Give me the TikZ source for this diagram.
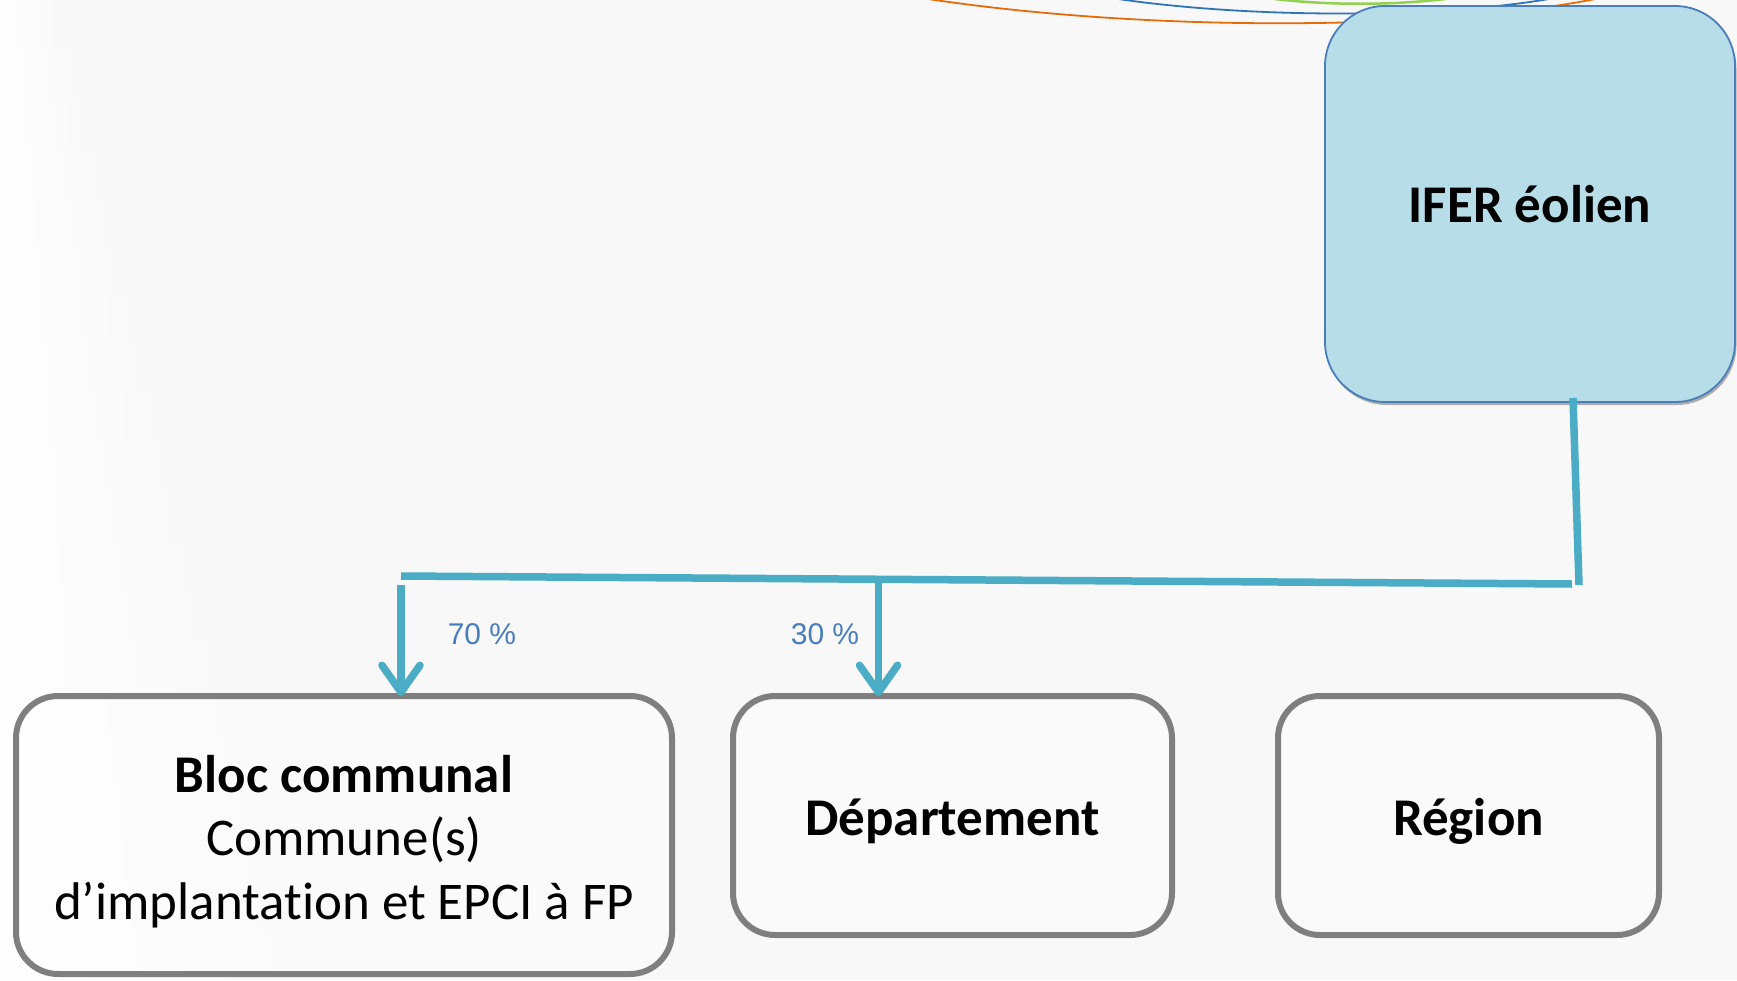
\documentclass[tikz,border=0pt]{standalone}
\usepackage{fontspec}
\setmainfont[Ligatures=NoCommon]{Carlito}
\newfontfamily\labfont{Liberation Sans}
\usetikzlibrary{arrows.meta,shadows,fadings,calc}
\definecolor{bgcol}{HTML}{F8F8F8}
\definecolor{iferfill}{HTML}{B7DDE8}
\definecolor{iferdraw}{HTML}{4A7EBB}
\definecolor{conncol}{HTML}{4BACC6}
\definecolor{boxgray}{HTML}{7F7F7F}
\definecolor{labcol}{HTML}{4A7EBB}
\definecolor{arcorange}{HTML}{E46C0A}
\definecolor{arcblue}{HTML}{2E75B6}
\definecolor{arcgreen}{HTML}{92D050}
\begin{document}
\begin{tikzpicture}[x=1pt,y=-1pt,
  bigfont/.style={font=\fontsize{53}{63.5}\selectfont},
  topbox/.style={rectangle, rounded corners=60pt, fill=iferfill, draw=iferdraw,
    line width=1.8pt, minimum width=410pt, minimum height=396pt, inner sep=0pt,
    outer sep=0pt, align=center, bigfont,
    drop shadow={opacity=0.3, shadow xshift=1.5pt, shadow yshift=-3pt, fill=black}},
  graybox/.style={rectangle, rounded corners=42pt, fill=white, fill opacity=0.35,
    text opacity=1, draw=boxgray, draw opacity=1, line width=6pt, inner sep=0pt,
    outer sep=0pt, align=center, bigfont},
  connline/.style={draw=conncol, line width=7.5pt},
  connarrow/.style={connline, -{Straight Barb[length=27pt, width=38pt, round]}},
  pct/.style={text=labcol, font=\labfont\fontsize{30}{36}\selectfont, inner sep=0pt},
  arc/.style={line width=1.8pt}
]
\useasboundingbox (0,0) rectangle (1737,980);
% background
\fill[bgcol] (0,0) rectangle (1737,980);
\foreach \i in {0,...,19}
  \fill[white, path fading=east] (0,{\i*49}) rectangle ({70+\i*13},{\i*49+49.3});
% decorative arcs at top
\begin{scope}
\clip (0,0) rectangle (1737,980);
\draw[arc, arcorange] (915,-3) .. controls (1150,34) and (1450,30) .. (1605,-3);
\draw[arc, arcblue] (1105,-3) .. controls (1250,20) and (1450,18) .. (1560,-3);
\draw[arc, arcgreen, line width=2.5pt] (1260,-3) .. controls (1320,6) and (1400,6) .. (1460,-3);
\end{scope}
% nodes
\node[topbox] (ifer) at (1530,204) {\bfseries IFER éolien};
\node[graybox, minimum width=656pt, minimum height=278pt] (bloc) at (344,835)
  {\raisebox{-8pt}[\height][\depth]{\begin{tabular}{@{}c@{}}{\bfseries Bloc communal}\\Commune(s)\\d’implantation et EPCI à FP\end{tabular}}};
\node[graybox, minimum width=439pt, minimum height=239pt] (dept) at (952.5,815.5)
  {\raisebox{-6pt}[\height][\depth]{\bfseries Département}};
\node[graybox, minimum width=381pt, minimum height=239pt] (region) at (1468.5,815.5)
  {\raisebox{-6pt}[\height][\depth]{\bfseries Région}};
% connectors
\coordinate (drop) at ($(ifer.south)+(43,-4)$);
\coordinate (corner) at (1579,585);
\coordinate (busR) at (1572,584);
\coordinate (busL) at (401,576);
\coordinate (a1) at (401,585);
\coordinate (a2) at (878.5,582);
\draw[connline] (drop) -- (corner);
\draw[connline] (busR) -- (busL);
\draw[connarrow] (a1) -- (a1 |- bloc.north);
\draw[connarrow] (a2) -- (a2 |- dept.north);
% labels
\node[pct] (p70) at (482,634) {70 \%};
\node[pct] (p30) at (825,634) {30 \%};
\end{tikzpicture}
\end{document}
